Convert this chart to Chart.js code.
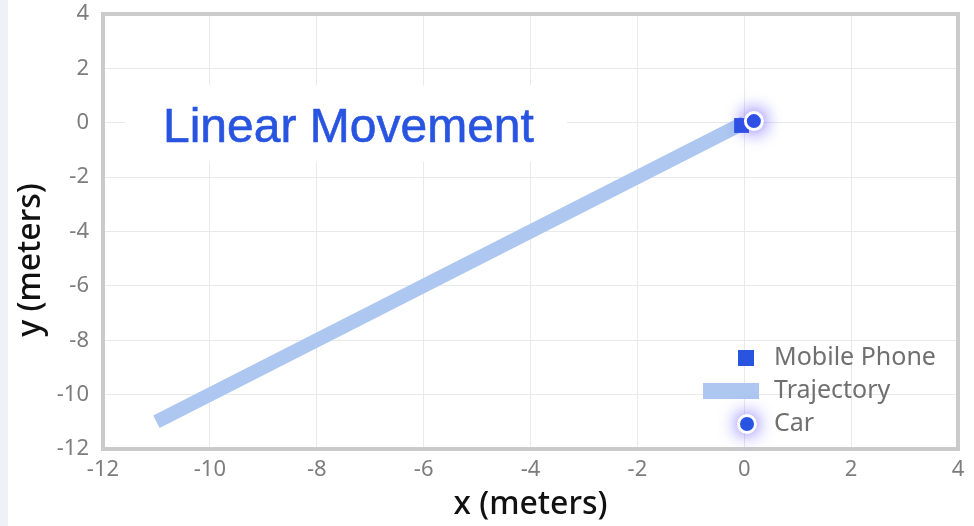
<!DOCTYPE html>
<html>
<head>
<meta charset="utf-8">
<script src="https://cdn.jsdelivr.net/npm/chart.js@4"></script>
<style>
  html, body { margin: 0; padding: 0; background: #fff; }
  #wrap { position: relative; width: 974px; height: 526px; }
  #strip { position: absolute; left: 0; top: 0; width: 8px; height: 526px; background: #eef1f6; }
  canvas { position: absolute; left: 0; top: 0; }
</style>
</head>
<body>
<div id="wrap">
  <div id="strip"></div>
  <canvas id="chart" width="974" height="526"></canvas>
</div>
<script>
// data
const seriesNames = ["Mobile Phone", "Trajectory", "Car"];
const trajX = [-11, 0];
const trajY = [-11, 0];
const phoneX = [-0.05];
const phoneY = [-0.1];
const carX = [0.18];
const carY = [0.06];
const axisMin = -12;
const axisMax = 4;
const tickStep = 2;

const chartTitle = "Linear Movement";
const xTitle = "x (meters)";
const yTitle = "y (meters)";

// colours
const blue = "#2854e0";
const lightBlue = "#adc7f0";
const tickGray = "#7d7d7d";
const gridGray = "#e9e9e9";
const glow = "rgba(90,70,255,0.95)";

const toPoints = (xs, ys) => xs.map((x, i) => ({ x, y: ys[i] }));

// glow behind the car marker
const glowPlugin = {
  id: "glow",
  beforeDatasetDraw(chart, args) {
    if (args.meta.label !== "Car") return;
    chart.ctx.save();
    chart.ctx.shadowColor = glow;
    chart.ctx.shadowBlur = 18;
  },
  afterDatasetDraw(chart, args) {
    if (args.meta.label !== "Car") return;
    chart.ctx.restore();
  },
};

// white box with the title, sits over the grid
const titlePlugin = {
  id: "titleBox",
  beforeDatasetsDraw(chart) {
    const { ctx, chartArea: a } = chart;
    ctx.save();
    ctx.fillStyle = "#fff";
    ctx.fillRect(a.left + 22, a.top + 71, 442, 77);
    ctx.fillStyle = blue;
    ctx.strokeStyle = blue;
    ctx.lineWidth = 0.6;
    ctx.font = "48px 'Liberation Sans', Arial, sans-serif";
    ctx.textBaseline = "alphabetic";
    ctx.fillText(chartTitle, a.left + 60, a.top + 128);
    ctx.strokeText(chartTitle, a.left + 60, a.top + 128);
    ctx.restore();
  },
};

// frame, y title and legend
const framePlugin = {
  id: "frame",
  afterDraw(chart) {
    const { ctx, chartArea: a } = chart;
    ctx.save();
    ctx.strokeStyle = "#cbcbcb";
    ctx.lineWidth = 4;
    ctx.strokeRect(a.left, a.top, a.right - a.left, a.bottom - a.top);

    // y axis title
    ctx.translate(31, 260);
    ctx.rotate(-Math.PI / 2);
    ctx.fillStyle = "#111";
    ctx.font = "500 32px 'Noto Sans', sans-serif";
    ctx.textAlign = "center";
    ctx.textBaseline = "middle";
    ctx.fillText(yTitle, 0, 0);
    ctx.restore();

    // legend
    ctx.save();
    ctx.font = "25px 'Noto Sans', sans-serif";
    ctx.textBaseline = "middle";
    const sx = a.right - 212;
    const tx = a.right - 184;
    const rows = [a.bottom - 91, a.bottom - 58, a.bottom - 25];
    seriesNames.forEach((name, i) => {
      const y = rows[i];
      if (name === "Mobile Phone") {
        ctx.fillStyle = blue;
        ctx.fillRect(sx - 8, y - 8, 16, 16);
      } else if (name === "Trajectory") {
        ctx.fillStyle = lightBlue;
        ctx.fillRect(sx - 43, y - 8, 56, 16);
      } else {
        ctx.save();
        ctx.shadowColor = glow;
        ctx.shadowBlur = 18;
        ctx.beginPath();
        ctx.arc(sx + 1, y, 10, 0, Math.PI * 2);
        ctx.fillStyle = "#fff";
        ctx.fill();
        ctx.restore();
        ctx.beginPath();
        ctx.arc(sx + 1, y, 7, 0, Math.PI * 2);
        ctx.fillStyle = blue;
        ctx.fill();
      }
      ctx.fillStyle = "#707070";
      ctx.fillText(name, tx, y);
    });
    ctx.restore();
  },
};

const tickFont = { family: "'Noto Sans', sans-serif", size: 22 };

new Chart(document.getElementById("chart"), {
  type: "scatter",
  data: {
    datasets: [
      {
        label: "Car",
        data: toPoints(carX, carY),
        backgroundColor: blue,
        borderColor: "#fff",
        borderWidth: 3,
        pointRadius: 8.5,
        order: 0,
      },
      {
        label: "Mobile Phone",
        data: toPoints(phoneX, phoneY),
        pointStyle: "rect",
        backgroundColor: blue,
        borderWidth: 0,
        pointRadius: 10.5,
        order: 1,
      },
      {
        label: "Trajectory",
        type: "line",
        data: toPoints(trajX, trajY),
        borderColor: lightBlue,
        borderWidth: 14,
        borderCapStyle: "butt",
        pointRadius: 0,
        showLine: true,
        order: 2,
      },
    ],
  },
  options: {
    responsive: false,
    animation: false,
    layout: { padding: { top: 14, right: 16, left: 0, bottom: 0 } },
    plugins: { legend: { display: false }, tooltip: { enabled: false } },
    scales: {
      x: {
        type: "linear",
        min: axisMin,
        max: axisMax,
        ticks: { stepSize: tickStep, color: tickGray, font: tickFont, padding: 8 },
        grid: { color: gridGray, drawTicks: false },
        border: { display: false },
        title: {
          display: true,
          text: xTitle,
          color: "#111",
          font: { family: "'Noto Sans', sans-serif", size: 32, weight: "500" },
          padding: { top: 0, bottom: 2 },
        },
        afterFit(scale) { scale.height = 77; },
      },
      y: {
        type: "linear",
        min: axisMin,
        max: axisMax,
        ticks: { stepSize: tickStep, color: tickGray, font: tickFont, padding: 14 },
        grid: { color: gridGray, drawTicks: false },
        border: { display: false },
        afterFit(scale) {
          scale.width = 103;
          scale.paddingTop = 0;
          scale.paddingBottom = 0;
        },
      },
    },
  },
  plugins: [glowPlugin, titlePlugin, framePlugin],
});
</script>
</body>
</html>
